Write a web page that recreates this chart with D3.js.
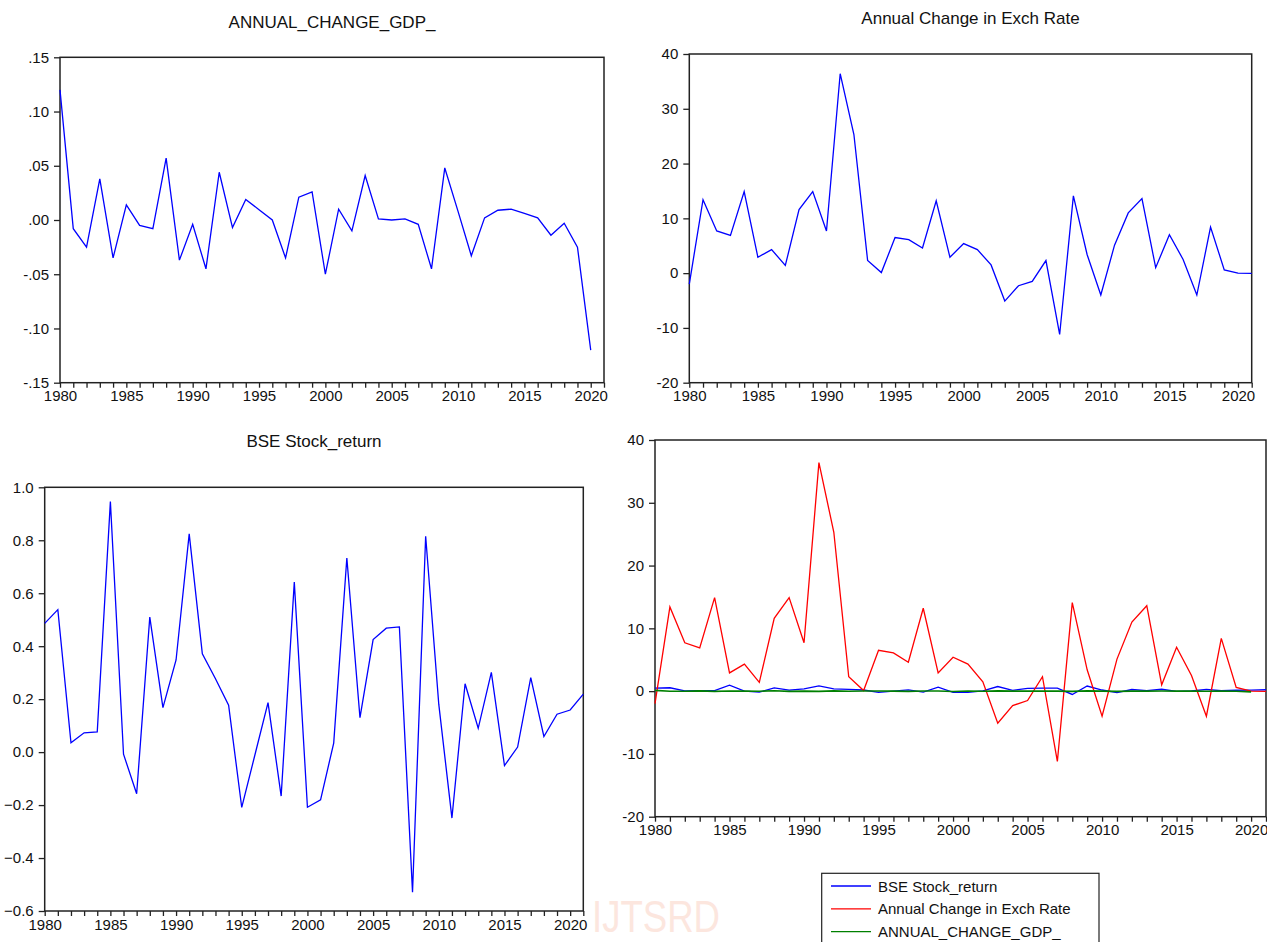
<!DOCTYPE html>
<html><head><meta charset="utf-8">
<script src="https://cdn.jsdelivr.net/npm/d3@7"></script>
<style>body{margin:0;background:#fff}svg{display:block}text{font-family:"Liberation Sans",Arial,sans-serif}</style>
</head><body>
<svg id="c" width="1267" height="942"></svg>
<script>
const yearsGDP = d3.range(1980, 2021);
const yearsExch = d3.range(1980, 2022);
const yearsBSE = d3.range(1980, 2022);
const gdp = [0.120,-0.008,-0.025,0.038,-0.035,0.014,-0.005,-0.008,0.057,-0.037,-0.004,-0.045,0.044,-0.007,0.019,0.0095,0.000,-0.035,0.021,0.026,-0.050,0.010,-0.010,0.041,0.001,0.000,0.001,-0.004,-0.045,0.048,0.008,-0.033,0.002,0.009,0.010,0.006,0.002,-0.014,-0.003,-0.025,-0.120];
const exch = [-2.0,13.4,7.7,6.9,14.9,2.9,4.3,1.4,11.6,14.9,7.7,36.4,25.3,2.3,0.1,6.5,6.1,4.6,13.2,2.9,5.4,4.3,1.5,-5.1,-2.3,-1.5,2.3,-11.2,14.1,3.4,-4.0,5.1,11.0,13.6,1.0,7.0,2.5,-4.0,8.4,0.6,0.0,-0.05];
const bse = [0.486,0.538,0.035,0.073,0.076,0.946,-0.008,-0.157,0.510,0.168,0.348,0.824,0.371,0.277,0.177,-0.209,-0.011,0.187,-0.166,0.642,-0.208,-0.180,0.034,0.733,0.130,0.425,0.468,0.473,-0.529,0.815,0.180,-0.249,0.258,0.090,0.301,-0.051,0.019,0.281,0.059,0.143,0.159,0.219];
const gdpTicks = [0.15,0.10,0.05,0.00,-0.05,-0.10,-0.15];
const gdpTickLabels = [".15",".10",".05",".00","-.05","-.10","-.15"];
const exchTicks = [40,30,20,10,0,-10,-20];
const bseTicks = [1.0,0.8,0.6,0.4,0.2,0.0,-0.2,-0.4,-0.6];
const titles = ["ANNUAL_CHANGE_GDP_","Annual Change in Exch Rate","BSE Stock_return",""];
const legendNames = ["BSE Stock_return","Annual Change in Exch Rate","ANNUAL_CHANGE_GDP_"];
const colors = ["#0000ff","#ff0000","#008000"];

const svg = d3.select("#c");

// faint watermark
svg.append("text").attr("x",592).attr("y",932).attr("font-size",44).attr("fill","#fce6de")
  .attr("textLength",128).attr("lengthAdjust","spacingAndGlyphs").text("IJTSRD");

function panel(cfg){
  const x = d3.scaleLinear().domain([1980,2021]).range([cfg.l,cfg.r]);
  const y = d3.scaleLinear().domain(cfg.ydom).range([cfg.b,cfg.t]);
  const g = svg.append("g");
  const ya = d3.axisLeft(y).tickValues(cfg.yticks).tickSize(6).tickPadding(5)
    .tickFormat(cfg.yfmt);
  g.append("g").attr("transform",`translate(${cfg.l},0)`).call(ya)
    .call(s=>{s.select(".domain").remove();s.selectAll("line").attr("stroke","#222").attr("stroke-width",1.3);s.selectAll("text").attr("font-size",15).attr("fill","#111");});
  const xa = d3.axisBottom(x).tickValues(d3.range(1980,2022)).tickSize(5).tickPadding(3)
    .tickFormat(d=> d%5===0 ? d : "");
  g.append("g").attr("transform",`translate(0,${cfg.b})`).call(xa)
    .call(s=>{s.select(".domain").remove();s.selectAll("line").attr("stroke","#222").attr("stroke-width",1.3);s.selectAll("text").attr("font-size",15).attr("fill","#111");});
  g.append("rect").attr("x",cfg.l).attr("y",cfg.t).attr("width",cfg.r-cfg.l).attr("height",cfg.b-cfg.t)
    .attr("fill","none").attr("stroke","#222").attr("stroke-width",1.5);
  cfg.series.forEach(sr=>{
    const line = d3.line().x((d,i)=>x(sr.years[i])).y(d=>y(d));
    g.append("path").datum(sr.values).attr("d",line).attr("fill","none")
      .attr("stroke",sr.color).attr("stroke-width",sr.w||1.3).attr("stroke-linejoin","miter");
  });
  if(cfg.title){
    g.append("text").attr("x",(cfg.l+cfg.r)/2).attr("y",cfg.ty).attr("text-anchor","middle")
      .attr("font-size",17).attr("fill","#111").text(cfg.title);
  }
  return {x,y};
}

panel({l:60,r:604,t:57.3,b:382.7,ydom:[-0.15,0.15],yticks:gdpTicks,
  yfmt:(d,i)=>gdpTickLabels[i],title:titles[0],ty:28,
  series:[{years:yearsGDP,values:gdp,color:colors[0]}]});
panel({l:689.3,r:1251.7,t:54,b:382.7,ydom:[-20,40],yticks:exchTicks,
  yfmt:d=>d,title:titles[1],ty:24,
  series:[{years:yearsExch,values:exch,color:colors[0]}]});
panel({l:44.7,r:583.3,t:487.3,b:911,ydom:[-0.6,1.0],yticks:bseTicks,
  yfmt:d3.format(".1f"),title:titles[2],ty:447,
  series:[{years:yearsBSE,values:bse,color:colors[0]}]});
panel({l:655,r:1266,t:440,b:816.7,ydom:[-20,40],yticks:exchTicks,
  yfmt:d=>d,title:titles[3],
  series:[{years:yearsBSE,values:bse,color:colors[0]},
          {years:yearsExch,values:exch,color:colors[1]},
          {years:yearsGDP,values:gdp,color:colors[2],w:1.6}]});

// legend
const lg = svg.append("g");
lg.append("rect").attr("x",821.7).attr("y",873.3).attr("width",277.3).attr("height",80)
  .attr("fill","#fff").attr("stroke","#222").attr("stroke-width",1.2);
legendNames.forEach((n,i)=>{
  const yy = 886 + i*22.8;
  lg.append("line").attr("x1",831).attr("x2",871).attr("y1",yy).attr("y2",yy)
    .attr("stroke",colors[i]).attr("stroke-width",1.3);
  lg.append("text").attr("x",878).attr("y",yy+5.5).attr("font-size",15).attr("fill","#111").text(n);
});
</script>
</body></html>
